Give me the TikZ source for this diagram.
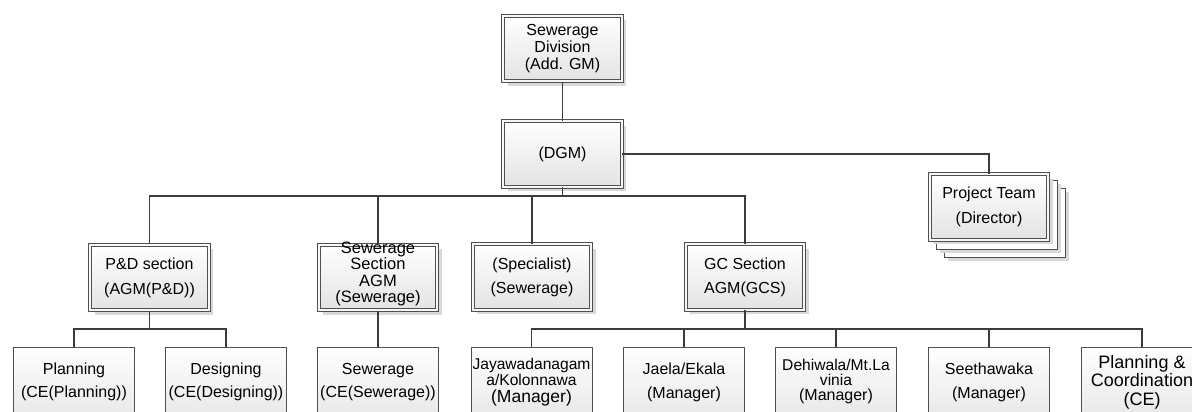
\documentclass[tikz,border=0pt]{standalone}
\usepackage{fontspec}
\setmainfont{Liberation Sans}
\usetikzlibrary{shadows}
\definecolor{wire}{HTML}{3C3C3C}
\definecolor{frame}{HTML}{505050}
\begin{document}
\begin{tikzpicture}[x=1pt,y=-1pt,
  txt/.style={align=center, inner sep=0pt, font=\fontsize{16}{17}\selectfont},
  dbox/.style={txt, draw=frame, line width=1pt, double=black!3, double distance=1.8pt,
    top color=white, bottom color=black!11, minimum width=118.5pt, minimum height=65.5pt,
    drop shadow={shadow xshift=4.5pt, shadow yshift=-4.5pt, fill=black!15, opacity=1}},
  sbox/.style={txt, draw=frame, line width=1pt, top color=white, bottom color=black!9,
    minimum width=121pt, minimum height=70pt},
  backbox/.style={draw=frame, line width=1pt, fill=white, minimum width=121pt, minimum height=69pt,
    drop shadow={shadow xshift=3pt, shadow yshift=-3pt, fill=black!15, opacity=1}},
  conn/.style={draw=wire, line width=1.6pt}]
\useasboundingbox (0,0) rectangle (1192,412);
\clip (0,0) rectangle (1192,412);

% top of the hierarchy
\node[dbox] (div) at (562.5,48.5) {Sewerage\\Division\\(Add. GM)};
\node[dbox] (dgm) at (562.5,154) {(DGM)};

% project team, drawn as a stack of cards
\node[backbox] (projb2) at (1005,223) {};
\node[backbox] (projb1) at (997,215) {};
\node[dbox, font=\fontsize{16}{25}\selectfont] (proj) at (989,207) {Project Team\\(Director)};

% second level
\node[dbox, font=\fontsize{16}{25}\selectfont] (pd) at (149.5,277.5) {P\&D section\\(AGM(P\&D))};
\node[dbox] (sws) at (378,277.5) {};
\node[txt, font=\fontsize{16.5}{16.3}\selectfont] (swst) at (378,274) {Sewerage\\Section\\AGM\\(Sewerage)};
\node[dbox, font=\fontsize{16}{24}\selectfont] (spec) at (532,277) {(Specialist)\\(Sewerage)};
\node[dbox, font=\fontsize{16}{24}\selectfont] (gc) at (745,277) {GC Section\\AGM(GCS)};

% third level
\node[sbox, font=\fontsize{16}{23}\selectfont] (plan) at (74,382) {Planning\\(CE(Planning))};
\node[sbox, font=\fontsize{16}{23}\selectfont] (des) at (226,382) {Designing\\(CE(Designing))};
\node[sbox, font=\fontsize{16}{23}\selectfont] (sew) at (378,382) {Sewerage\\(CE(Sewerage))};
\node[sbox, font=\fontsize{15.6}{14.5}\selectfont] (jaya) at (531.5,382)
  {Jayawadanagam\\a/Kolonnawa\\[2.5pt]{\fontsize{17.5}{17}\selectfont(Manager)}};
\node[sbox, font=\fontsize{16}{24}\selectfont] (jaela) at (684,382) {Jaela/Ekala\\(Manager)};
\node[sbox, font=\fontsize{15.6}{14.5}\selectfont] (dehi) at (836,382)
  {Dehiwala/Mt.La\\vinia\\[1pt]{\fontsize{16}{16}\selectfont(Manager)}};
\node[sbox, font=\fontsize{16}{24}\selectfont] (seet) at (989,382) {Seethawaka\\(Manager)};
\node[sbox, font=\fontsize{18}{18.5}\selectfont] (pc) at (1142,382) {Planning \&\\Coordination\\(CE)};

% bus junctions
\coordinate (j1) at (562.5,196);
\coordinate (j2) at (149.5,329);
\coordinate (j3) at (745,329);

% connectors
\draw[conn] (div.south) -- (dgm.north);
\draw[conn] (dgm.east) -| (proj.north);
\draw[conn] (dgm.south) -- (j1);
\draw[conn] (pd.north) |- (j1) -| (gc.north);
\draw[conn] (sws.north) -- (sws.north |- j1);
\draw[conn] (spec.north) -- (spec.north |- j1);

\draw[conn] (pd.south) -- (j2);
\draw[conn] (plan.north) |- (j2) -| (des.north);
\draw[conn] (sws.south) -- (sew.north);

\draw[conn] (gc.south) -- (j3);
\draw[conn] (jaya.north) |- (j3) -| (pc.north);
\draw[conn] (jaela.north) -- (jaela.north |- j3);
\draw[conn] (dehi.north) -- (dehi.north |- j3);
\draw[conn] (seet.north) -- (seet.north |- j3);
\end{tikzpicture}
\end{document}
